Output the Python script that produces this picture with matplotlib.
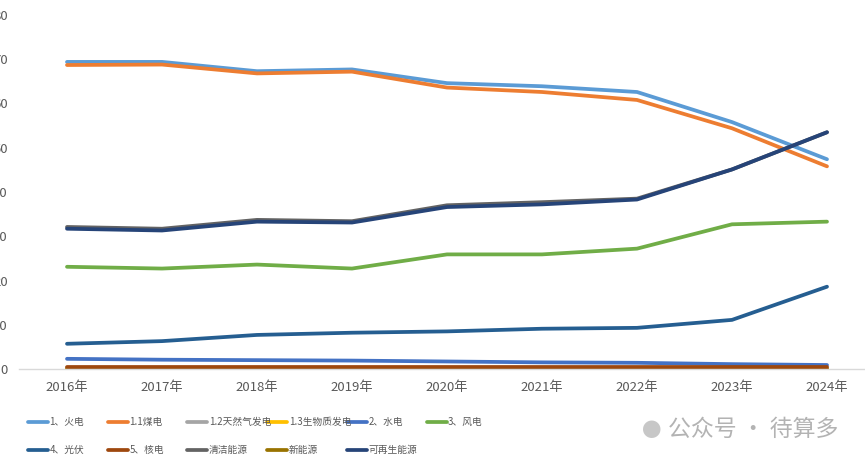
import matplotlib
matplotlib.use("Agg")
import matplotlib.pyplot as plt
from matplotlib.lines import Line2D

plt.rcParams["font.family"] = ["Noto Sans CJK SC", "DejaVu Sans"]

years = ["2016年", "2017年", "2018年", "2019年", "2020年", "2021年", "2022年", "2023年", "2024年"]

thermal = [69.4, 69.4, 67.3, 67.7, 64.6, 63.9, 62.6, 55.8, 47.4]
coal = [68.7, 68.8, 66.8, 67.2, 63.6, 62.6, 60.8, 54.4, 45.8]
gas = [0.2, 0.2, 0.2, 0.2, 0.2, 0.2, 0.2, 0.2, 0.2]
biomass = [0.1, 0.1, 0.1, 0.1, 0.1, 0.1, 0.1, 0.1, 0.1]
hydro = [2.3, 2.1, 2.0, 1.9, 1.7, 1.5, 1.4, 1.1, 0.9]
wind = [23.1, 22.7, 23.6, 22.7, 25.9, 25.9, 27.2, 32.7, 33.3]
solar = [5.7, 6.3, 7.7, 8.2, 8.5, 9.1, 9.3, 11.1, 18.6]
nuclear = [0.4, 0.4, 0.4, 0.4, 0.4, 0.4, 0.4, 0.4, 0.4]
clean = [32.1, 31.7, 33.7, 33.4, 37.0, 37.7, 38.5, 45.1, 53.5]
new_energy = [0.1, 0.1, 0.1, 0.1, 0.1, 0.1, 0.1, 0.1, 0.1]
renewable = [31.7, 31.3, 33.3, 33.1, 36.6, 37.2, 38.3, 45.1, 53.5]

series = [
    ("1、火电", thermal, "#5B9BD5"),
    ("1.1煤电", coal, "#ED7D31"),
    ("1.2天然气发电", gas, "#A5A5A5"),
    ("1.3生物质发电", biomass, "#FFC000"),
    ("2、水电", hydro, "#4472C4"),
    ("3、风电", wind, "#70AD47"),
    ("4、光伏", solar, "#255E91"),
    ("5、核电", nuclear, "#9E480E"),
    ("清洁能源", clean, "#636363"),
    ("新能源", new_energy, "#997300"),
    ("可再生能源", renewable, "#264478"),
]

W, H = 865, 463
fig = plt.figure(figsize=(W / 100, H / 100), dpi=100)
# plot area is wider than the image: the right end is cropped like the original
ax = fig.add_axes([19.5 / W, (H - 369) / H, 855 / W, 354 / H])

x = range(len(years))
# draw the near-zero ones first so nuclear (brown) stays on top at the bottom
order = [0, 1, 2, 3, 9, 4, 5, 6, 7, 8, 10]
for i in order:
    name, vals, color = series[i]
    ax.plot(x, vals, color=color, lw=2.7, solid_capstyle="round",
            solid_joinstyle="round", label=name)

ax.set_xlim(-0.5, len(years) - 0.5)
ax.set_ylim(0, 80)
ax.set_xticks(list(x))
ax.set_xticklabels(years, fontsize=9.5, color="#595959")
ax.set_yticks(range(0, 81, 10))
ax.set_yticklabels([str(v) for v in range(0, 81, 10)], fontsize=9.5, color="#595959")
ax.tick_params(axis="both", length=0)
ax.tick_params(axis="y", pad=8.5)
ax.tick_params(axis="x", pad=9)
for s in ["top", "right", "left"]:
    ax.spines[s].set_visible(False)
ax.spines["bottom"].set_color("#D9D9D9")
ax.spines["bottom"].set_linewidth(1.0)

# legend laid out by hand: 6 entries on the first row, 5 on the second
col_w = 79.7
for i, (name, vals, color) in enumerate(series):
    row, col = divmod(i, 6)
    x0 = 28 + col * col_w
    yy = H - (422 + row * 28)
    fig.add_artist(Line2D([x0 / W, (x0 + 20) / W], [yy / H, yy / H],
                          color=color, lw=2.7, solid_capstyle="round"))
    fig.text((x0 + 21.5) / W, yy / H, name, fontsize=7.0, color="#595959",
             va="center", ha="left")

# watermark
fig.text(668 / W, (H - 429) / H, "公众号 · 待算多", fontsize=16.5,
         color="#9a9a9a", alpha=0.75, va="center", ha="left")
fig.text(652 / W, (H - 431) / H, "●", fontsize=14, color="#b0b0b0",
         alpha=0.7, va="center", ha="center")

fig.savefig("out.png", dpi=100, facecolor="white")
